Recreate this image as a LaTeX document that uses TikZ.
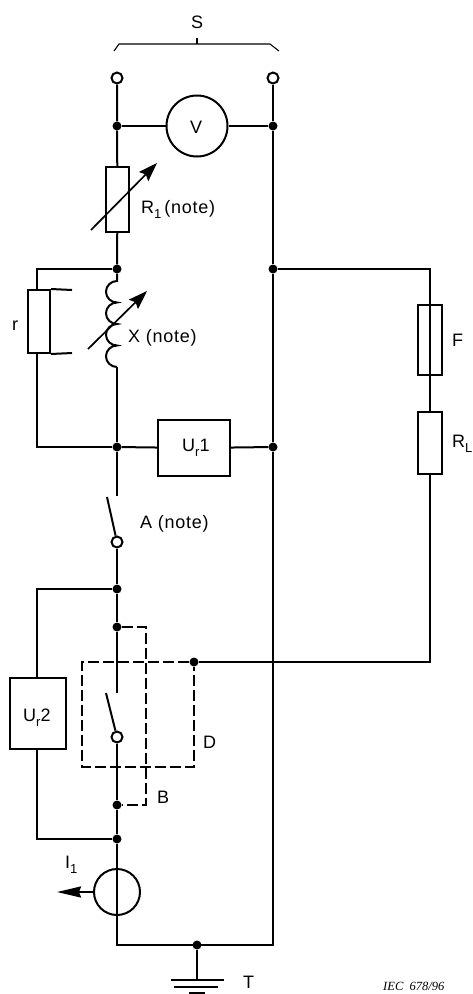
\documentclass[tikz,border=0pt]{standalone}
\usepackage{fontspec}
\setmainfont[LetterSpace=4]{Liberation Sans}
\newfontfamily\iecfont{Liberation Serif}
\usetikzlibrary{arrows.meta}
\newcommand{\indice}[1]{\raisebox{-5pt}{\fontsize{13}{13}\selectfont #1}}
\begin{document}
\begin{tikzpicture}[x=1pt,y=-1pt]
    \tikzstyle{fil}=[line width=2pt]
    \tikzstyle{boite}=[draw,line width=2pt,fill=white,rectangle,inner sep=0pt]
    \tikzstyle{borne}=[circle,draw,line width=2pt,fill=white,minimum size=11pt,inner sep=0pt]
    \tikzstyle{point}=[circle,fill=black,minimum size=9pt,inner sep=0pt]
    \tikzstyle{pointille}=[line width=2pt,dash pattern=on 11pt off 4pt]
    \tikzstyle{reglage}=[line width=1.7pt,-{Stealth[length=19pt,width=13pt,inset=3pt]}]
    \tikzstyle{barre}=[line width=2.5pt]
    \tikzstyle{texte}=[inner sep=0pt,anchor=base west,font=\fontsize{18}{20}\selectfont]
    \useasboundingbox (0,0) rectangle (473,994);
    % bornes du haut
    \node[borne] (s1) at (117,78) {};
    \node[borne] (s2) at (273,78) {};
    \node[point] (a1) at (117,126) {};
    \node[point] (a2) at (273,126) {};
    \node[point] (b1) at (117,269) {};
    \node[point] (b2) at (273,269) {};
    \node[point] (c1) at (117,447) {};
    \node[point] (c2) at (273,447) {};
    \node[point] (d1) at (117,589) {};
    \node[point] (d2) at (117,627) {};
    \node[point] (d3) at (117,805) {};
    \node[point] (d4) at (117,839) {};
    \node[point] (e1) at (194,662) {};
    \node[point] (g1) at (197,945) {};
    \coordinate (h1) at (117,945);
    \coordinate (h2) at (273,945);
    % elements
    \node[circle,draw,line width=2pt,minimum size=61pt,inner sep=0pt] (V) at (197,126) {};
    \node[boite,minimum width=23pt,minimum height=65pt] (R1) at (117.5,199.5) {};
    \node[boite,minimum width=22pt,minimum height=63pt] (r) at (39,321.5) {};
    \node[boite,minimum width=72pt,minimum height=56pt] (U1) at (194,448) {};
    \node[boite,minimum width=56pt,minimum height=71pt] (U2) at (38,713.5) {};
    \node[boite,minimum width=24pt,minimum height=70pt] (F) at (430,340) {};
    \node[boite,minimum width=24pt,minimum height=62pt] (RL) at (430,443) {};
    \node[circle,draw,line width=2pt,minimum size=46pt,inner sep=0pt] (I) at (117,892) {};
    % fils
    \draw[fil] (s1) -- (a1) -- (R1);
    \draw[fil] (R1) -- (b1);
    \draw[fil] (s2) -- (a2) -- (b2) -- (c2) -- (h2) -- (h1) -- (d4);
    \draw[fil] (a1) -- (V) -- (a2);
    \coordinate (f0) at (430,269);
    \coordinate (f1) at (430,662);
    \draw[fil] (b2) -- (f0) -- (F.north);
    \draw[fil] (F.north) -- (F.south) -- (RL.north);
    \draw[fil] (RL.south) -- (f1) -- (e1);
    \coordinate (r0) at (37,269);
    \coordinate (r1) at (37,447);
    \coordinate (r2) at (37,290);
    \coordinate (r3) at (37,353);
    \draw[fil] (b1) -- (r0) -- (r2);
    \draw[fil] (r3) -- (r1) -- (c1);
    \draw[fil] (r.north east) -- (72,290);
    \draw[fil] (r.south east) -- (72,353);
    \draw[fil] (c1) -- (U1) -- (c2);
    % bobine
    \coordinate (x0) at (117,281);
    \coordinate (x1) at (117,367);
    \draw[fil] (b1) -- (x0) arc (-90:-270:11 and 10.75) arc (-90:-270:11 and 10.75) arc (-90:-270:11 and 10.75) arc (-90:-270:11 and 10.75);
    \draw[fil] (x1) -- (c1);
    \draw[reglage] (88,349) -- (147,291);
    \draw[reglage] (91,230) -- (157,163);
    % interrupteur A
    \node[borne] (A) at (117,542) {};
    \coordinate (A0) at (117,496);
    \coordinate (A1) at (107,497);
    \draw[fil] (c1) -- (A0);
    \draw[fil] (A1) -- (A);
    \draw[fil] (A) -- (d1);
    % interrupteur B
    \node[borne] (Bs) at (117,737) {};
    \coordinate (B0) at (117,693);
    \coordinate (B1) at (106,693);
    \draw[fil] (d1) -- (d2) -- (B0);
    \draw[fil] (B1) -- (Bs);
    \draw[fil] (Bs) -- (d3) -- (d4) -- (I);
    \draw[fil] (I.north) -- (I.south) -- (h1);
    \draw[pointille] (d2) -- (146,627) -- (146,805) -- (d3);
    \draw[pointille] (e1) -- (82,662) -- (82,767) -- (194,767) -- (e1);
    % Ur2
    \coordinate (u0) at (37,589);
    \coordinate (u1) at (37,839);
    \draw[fil] (d1) -- (u0) -- (37,678);
    \draw[fil] (37,749) -- (u1) -- (d4);
    \coordinate (i0) at (57,892);
    \draw[fil,-{Stealth[length=24pt,width=11pt,inset=2pt]}] (I) -- (i0);
    % terre
    \coordinate (t0) at (197,980);
    \draw[fil] (g1) -- (t0);
    \draw[barre] (171,980) -- (224,980);
    \draw[barre] (174,987) -- (218,987);
    \draw[barre] (189,993) -- (205,993);
    % accolade
    \draw[line width=1.1pt] (114,51) -- (119,44) -- (270,44) -- (279,51);
    \draw[line width=1.1pt] (197,38) -- (197,44);
    % textes
    \node[texte] (lS) at (191,28) {S};
    \node[texte] (lV) at (190,133) {V};
    \node[texte] (lR1) at (141,213) {R\indice{1}\,(note)};
    \node[texte] (lr) at (12,330) {r};
    \node[texte] (lX) at (128,342) {X (note)};
    \node[texte] (lU1) at (182,451) {U\indice{r}1};
    \node[texte] (lA) at (140,528) {A (note)};
    \node[texte] (lU2) at (23,721) {U\indice{r}2};
    \node[texte] (lD) at (203,748) {D};
    \node[texte] (lB) at (157,803) {B};
    \node[texte] (lI) at (65,868) {I\indice{1}};
    \node[texte] (lT) at (243,988) {T};
    \node[texte] (lF) at (452,346) {F};
    \node[texte] (lRL) at (452,447) {R\indice{L}};
    \node[inner sep=0pt,anchor=base west,font=\iecfont\itshape\fontsize{12.5}{14}\selectfont] (iec) at (383,990.5) {IEC\ \ 678/96};
\end{tikzpicture}
\end{document}
